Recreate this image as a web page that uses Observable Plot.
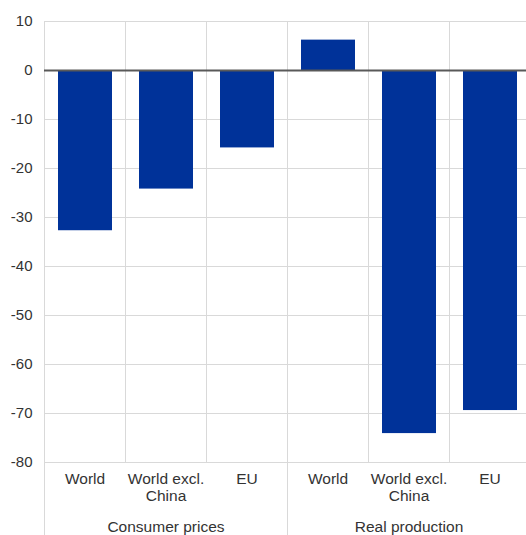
<!DOCTYPE html>
<html><head><meta charset="utf-8">
<script src="https://cdn.jsdelivr.net/npm/d3@7"></script>
<script src="https://cdn.jsdelivr.net/npm/@observablehq/plot@0.6"></script>
<style>body{margin:0;background:#fff;} #chart svg{display:block;}</style>
</head><body><div id="chart"></div>
<script>
const groups = ["Consumer prices","Consumer prices","Consumer prices","Real production","Real production","Real production"];
const categories = ["World","World excl.\nChina","EU","World","World excl.\nChina","EU"];
const values = [-32.7, -24.2, -15.8, 6.2, -74.1, -69.4];
const yTicks = [10, 0, -10, -20, -30, -40, -50, -60, -70, -80];

const data = categories.map((c, i) => ({i, c, v: values[i], g: groups[i]}));
const groupNames = [...new Set(groups)];
const groupInfo = groupNames.map(name => {
  const idx = groups.map((g, i) => g === name ? i : -1).filter(i => i >= 0);
  return {name, start: d3.min(idx), mid: (d3.min(idx) + d3.max(idx) + 1) / 2};
});
const bandEdges = d3.range(0, categories.length);

const chart = Plot.plot({
  width: 526,
  height: 535,
  marginLeft: 44,
  marginRight: -4,
  marginTop: 21,
  marginBottom: 73,
  style: {fontFamily: "'Liberation Sans', Arial, sans-serif", color: "#333", background: "#fff"},
  x: {domain: [0, categories.length], axis: null},
  y: {domain: [-80, 10]},
  marks: [
    Plot.ruleY(yTicks, {stroke: "#d9d9d9", strokeWidth: 1}),
    Plot.ruleX(bandEdges, {y1: 10, y2: -80, stroke: "#d9d9d9", strokeWidth: 1}),
    Plot.ruleX(groupInfo, {x: "start", stroke: "#d9d9d9", strokeWidth: 1, insetBottom: -73}),
    Plot.rectY(data, {x1: d => d.i, x2: d => d.i + 1, y: "v", fill: "#003299", insetLeft: 14, insetRight: 13}),
    Plot.ruleY([0], {stroke: "#595959", strokeWidth: 2}),
    Plot.axisY({ticks: yTicks, tickFormat: d => String(d), tickSize: 0, tickPadding: 12, fontSize: 15, label: null}),
    Plot.text(data, {x: d => d.i + 0.5, text: "c", frameAnchor: "bottom", lineAnchor: "top", dy: 10, fontSize: 15.5, lineHeight: 1.08, fill: "#333"}),
    Plot.text(groupInfo, {x: "mid", text: "name", frameAnchor: "bottom", lineAnchor: "middle", dy: 65, fontSize: 15.5, fill: "#333"})
  ]
});
document.getElementById("chart").appendChild(chart);
</script>
</body></html>
